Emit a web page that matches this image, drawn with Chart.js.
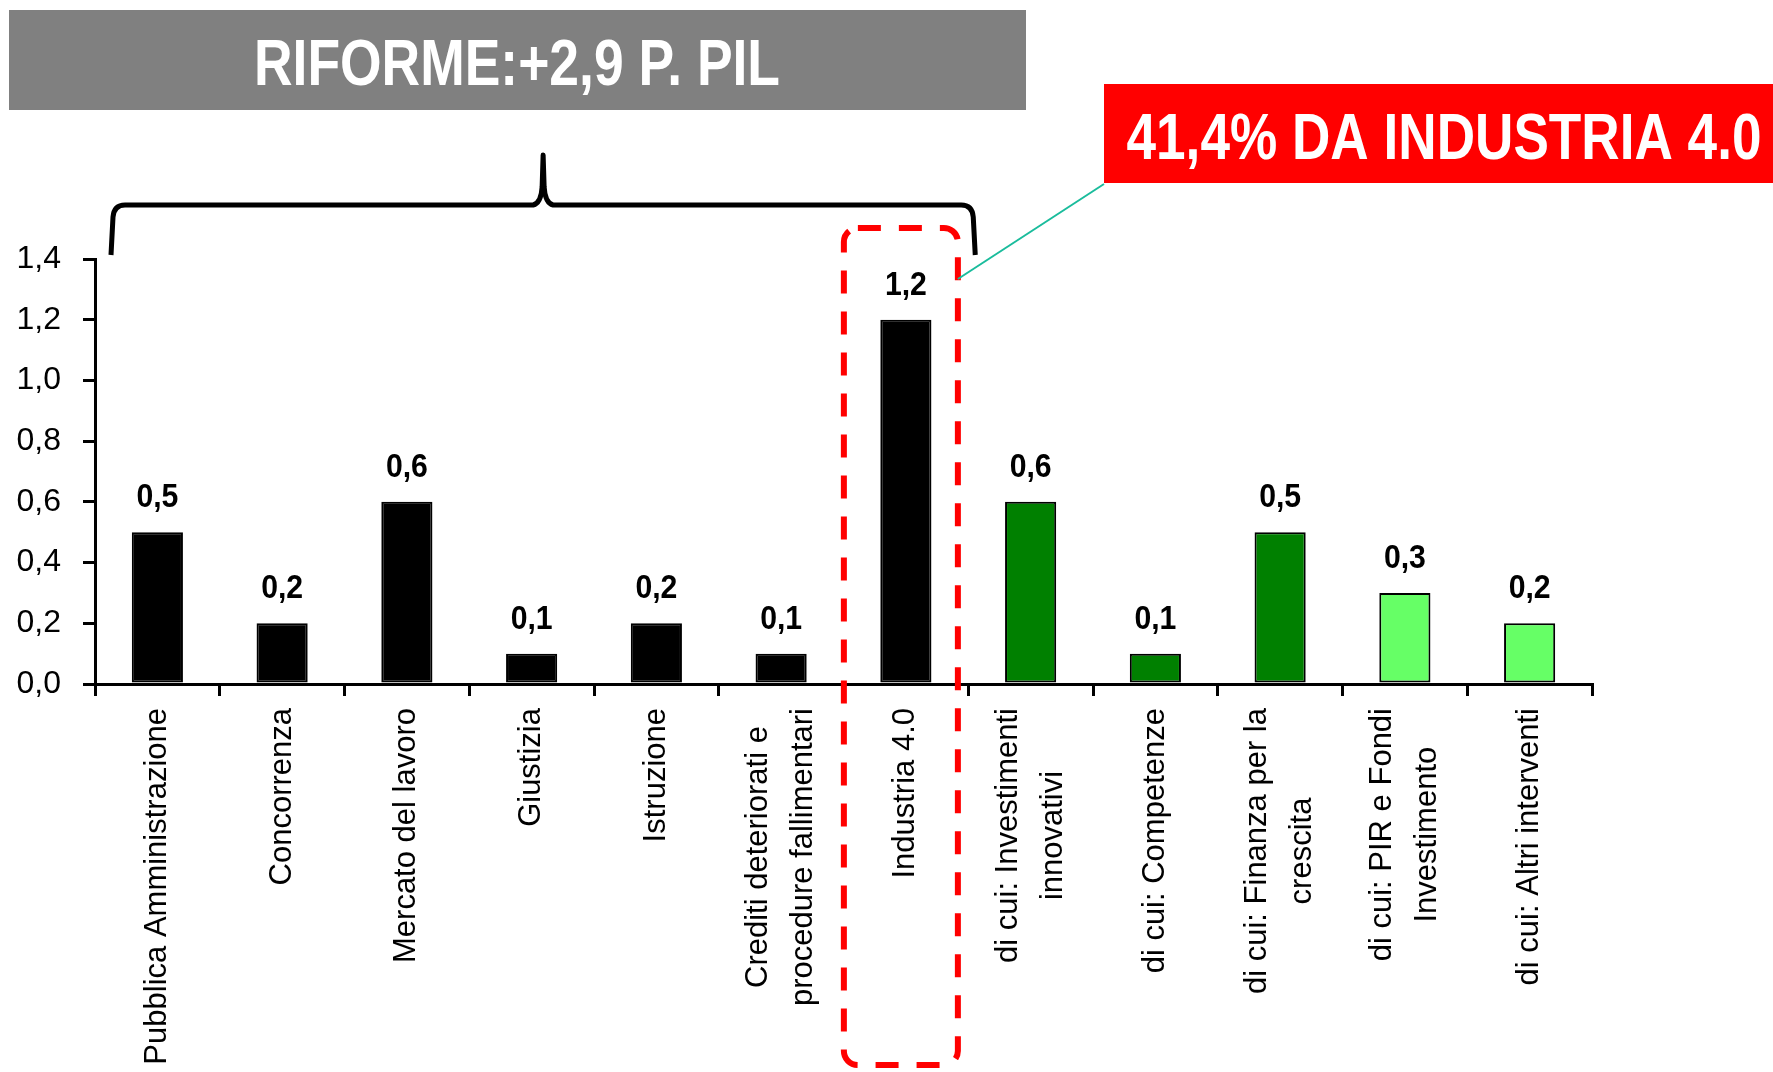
<!DOCTYPE html>
<html>
<head>
<meta charset="utf-8">
<script src="https://cdn.jsdelivr.net/npm/chart.js@4/dist/chart.umd.min.js"></script>
<style>
  body { margin: 0; background: #fff; }
</style>
</head>
<body>
<canvas id="myChart" width="1773" height="1072"></canvas>
<script>
// dati del grafico
const categorie = [
  "Pubblica Amministrazione",
  "Concorrenza",
  "Mercato del lavoro",
  "Giustizia",
  "Istruzione",
  ["Crediti deteriorati e", "procedure fallimentari"],
  "Industria 4.0",
  ["di cui: Investimenti", "innovativi"],
  "di cui: Competenze",
  ["di cui: Finanza per la", "crescita"],
  ["di cui: PIR e Fondi", "Investimento"],
  "di cui: Altri interventi"
];
const valori = [0.5, 0.2, 0.6, 0.1, 0.2, 0.1, 1.2, 0.6, 0.1, 0.5, 0.3, 0.2];
const colori = ["#000000", "#000000", "#000000", "#000000", "#000000", "#000000", "#000000",
  "#008000", "#008000", "#008000", "#66FF66", "#66FF66"];
const tickY = [0, 0.2, 0.4, 0.6, 0.8, 1.0, 1.2, 1.4];
const titolo = "RIFORME:+2,9 P. PIL";
const nota = "41,4% DA INDUSTRIA 4.0";

const sans = "'Liberation Sans', Arial, sans-serif";
const virgola = (v) => v.toFixed(1).replace(".", ",");

// etichette su piu righe centrate tra loro (come nell'originale)
const centraEtichette = {
  id: "centraEtichette",
  beforeDraw(chart) {
    const sc = chart.scales.x;
    const items = sc.getLabelItems(chart.chartArea);
    if (items._centrate) return;
    const ctx = chart.ctx;
    ctx.save();
    items.forEach((it) => {
      if (!Array.isArray(it.label)) return;
      ctx.font = it.font.string;
      const larg = Math.max(...it.label.map((t) => ctx.measureText(t).width));
      const n = it.label.length;
      it.options.translation[0] -= (n - 1) * it.font.lineHeight / 2;
      it.options.translation[1] += larg / 2;
      it.options.textAlign = "center";
    });
    ctx.restore();
    items._centrate = true;
  }
};

// etichette sopra le barre
const etichette = {
  id: "etichette",
  afterDatasetsDraw(chart) {
    const ctx = chart.ctx;
    const meta = chart.getDatasetMeta(0);
    ctx.save();
    ctx.fillStyle = "#000";
    ctx.font = "bold 34px " + sans;
    ctx.textAlign = "center";
    ctx.textBaseline = "alphabetic";
    meta.data.forEach((bar, i) => {
      ctx.fillText(virgola(valori[i]), bar.x, bar.y - 25, 42);
    });
    ctx.restore();
  }
};

// box titolo, graffa, riquadro tratteggiato
const decorazioni = {
  id: "decorazioni",
  afterDraw(chart) {
    const ctx = chart.ctx;
    const x = chart.scales.x;
    const y = chart.scales.y;
    const area = chart.chartArea;
    const passo = x.getPixelForValue(1) - x.getPixelForValue(0);
    ctx.save();

    // box grigio
    ctx.fillStyle = "#808080";
    ctx.fillRect(9, 10, 1017, 100);
    ctx.fillStyle = "#fff";
    ctx.font = "bold 65px " + sans;
    ctx.textAlign = "center";
    ctx.textBaseline = "alphabetic";
    ctx.fillText(titolo, 517, 85, 526);

    // box rosso
    ctx.fillStyle = "#FF0000";
    ctx.fillRect(1104, 84, 669, 99);
    ctx.fillStyle = "#fff";
    ctx.fillText(nota, 1444, 159, 635);

    // graffa
    const sx = area.left + 16;
    const dx = x.getPixelForValue(6) + passo / 2 + 7;
    const cx = (sx + dx) / 2;
    const yb = 205;
    const yf = y.getPixelForValue(1.4) - 4;
    ctx.strokeStyle = "#000";
    ctx.lineWidth = 5;
    ctx.lineJoin = "round";
    ctx.beginPath();
    ctx.moveTo(sx, yf);
    ctx.lineTo(sx + 2, yb + 12);
    ctx.quadraticCurveTo(sx + 3, yb, sx + 14, yb);
    ctx.lineTo(cx - 10, yb);
    ctx.quadraticCurveTo(cx - 2, yb - 2, cx - 1, yb - 18);
    ctx.lineTo(cx, 155);
    ctx.lineTo(cx + 1, yb - 18);
    ctx.quadraticCurveTo(cx + 2, yb - 2, cx + 10, yb);
    ctx.lineTo(dx - 14, yb);
    ctx.quadraticCurveTo(dx - 3, yb, dx - 2, yb + 12);
    ctx.lineTo(dx, yf);
    ctx.stroke();

    // riquadro tratteggiato su Industria 4.0
    const c6 = x.getPixelForValue(6) - 5;
    const rx = c6 - 57, rw = 114;
    const ry = y.getPixelForValue(1.4) - 31;
    const rh = chart.height - 7 - ry;
    ctx.strokeStyle = "#FF0000";
    ctx.lineWidth = 6;
    ctx.setLineDash([23, 18]);
    ctx.beginPath();
    ctx.roundRect(rx, ry, rw, rh, 14);
    ctx.stroke();
    ctx.setLineDash([]);

    // linea di collegamento
    ctx.strokeStyle = "#1ABC9C";
    ctx.lineWidth = 2;
    ctx.beginPath();
    ctx.moveTo(1104, 184);
    ctx.lineTo(rx + rw, y.getPixelForValue(1.4) + 20);
    ctx.stroke();

    ctx.restore();
  }
};

const config = {
  type: "bar",
  data: {
    labels: categorie,
    datasets: [{
      data: valori,
      backgroundColor: colori,
      borderColor: "#000",
      borderWidth: 2,
      borderSkipped: false,
      categoryPercentage: 1,
      barPercentage: 0.41
    }]
  },
  options: {
    responsive: false,
    animation: false,
    layout: { padding: { top: 259, right: 181, left: 0, bottom: 0 } },
    plugins: { legend: { display: false }, tooltip: { enabled: false } },
    scales: {
      x: {
        afterFit: (s) => { s.height = 388; },
        grid: { drawOnChartArea: false, drawTicks: true, tickLength: 12, color: "#000", lineWidth: 3, offset: true },
        border: { color: "#000", width: 3 },
        ticks: {
          autoSkip: false, maxRotation: 90, minRotation: 90, padding: 12,
          color: "#000",
          font: { family: sans, size: 31, lineHeight: 1.45 }
        }
      },
      y: {
        min: 0, max: 1.4,
        afterFit: (s) => { s.width = 95; },
        afterBuildTicks: (s) => { s.ticks = tickY.map((v) => ({ value: v })); },
        grid: { drawOnChartArea: false, drawTicks: true, tickLength: 12, color: "#000", lineWidth: 3 },
        border: { color: "#000", width: 3 },
        ticks: {
          padding: 22, color: "#000",
          font: { family: sans, size: 32 },
          callback: (v) => virgola(v)
        }
      }
    }
  },
  plugins: [centraEtichette, etichette, decorazioni]
};

new Chart(document.getElementById("myChart"), config);
</script>
</body>
</html>
